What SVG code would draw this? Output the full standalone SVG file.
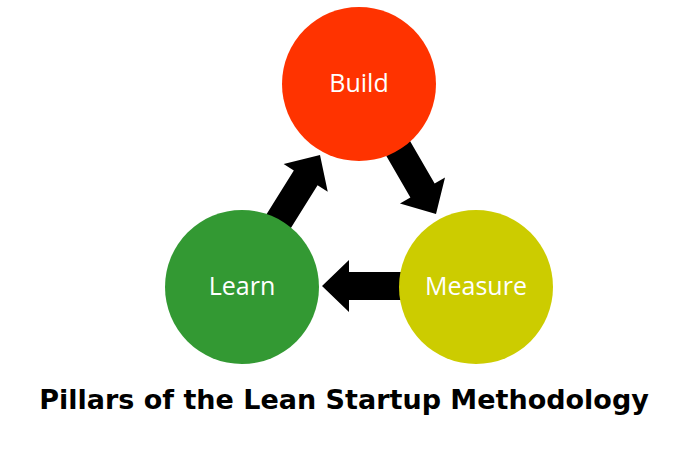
<svg xmlns="http://www.w3.org/2000/svg" width="700" height="450" viewBox="0 0 700 450">
<style>
.arrow{fill:#000}
.label{font-family:"Open Sans","Noto Sans",sans-serif;font-size:25px;fill:#fff;text-anchor:middle}
.title{font-family:"DejaVu Sans",sans-serif;font-weight:bold;font-size:27px;fill:#000;text-anchor:middle}
</style>
<defs>
<polygon id="arr" points="0,0 -27,-26 -27,-14 -95,-14 -95,14 -27,14 -27,26"/>
</defs>
<rect width="700" height="450" fill="#fff"/>
<g id="connectors" class="arrow">
<use href="#arr" transform="translate(322,286) rotate(180)"/>
<use href="#arr" transform="translate(320,155) rotate(-58)"/>
<use href="#arr" transform="translate(436,214) rotate(60)"/>
</g>
<g id="build"><circle cx="359" cy="84" r="77" fill="#FF3300"/><text class="label" x="359" y="92">Build</text></g>
<g id="learn"><circle cx="242" cy="287" r="77" fill="#339933"/><text class="label" x="242" y="295">Learn</text></g>
<g id="measure"><circle cx="476" cy="287" r="77" fill="#CCCC00"/><text class="label" x="476" y="295">Measure</text></g>
<text class="title" x="344" y="409">Pillars of the Lean Startup Methodology</text>
</svg>
